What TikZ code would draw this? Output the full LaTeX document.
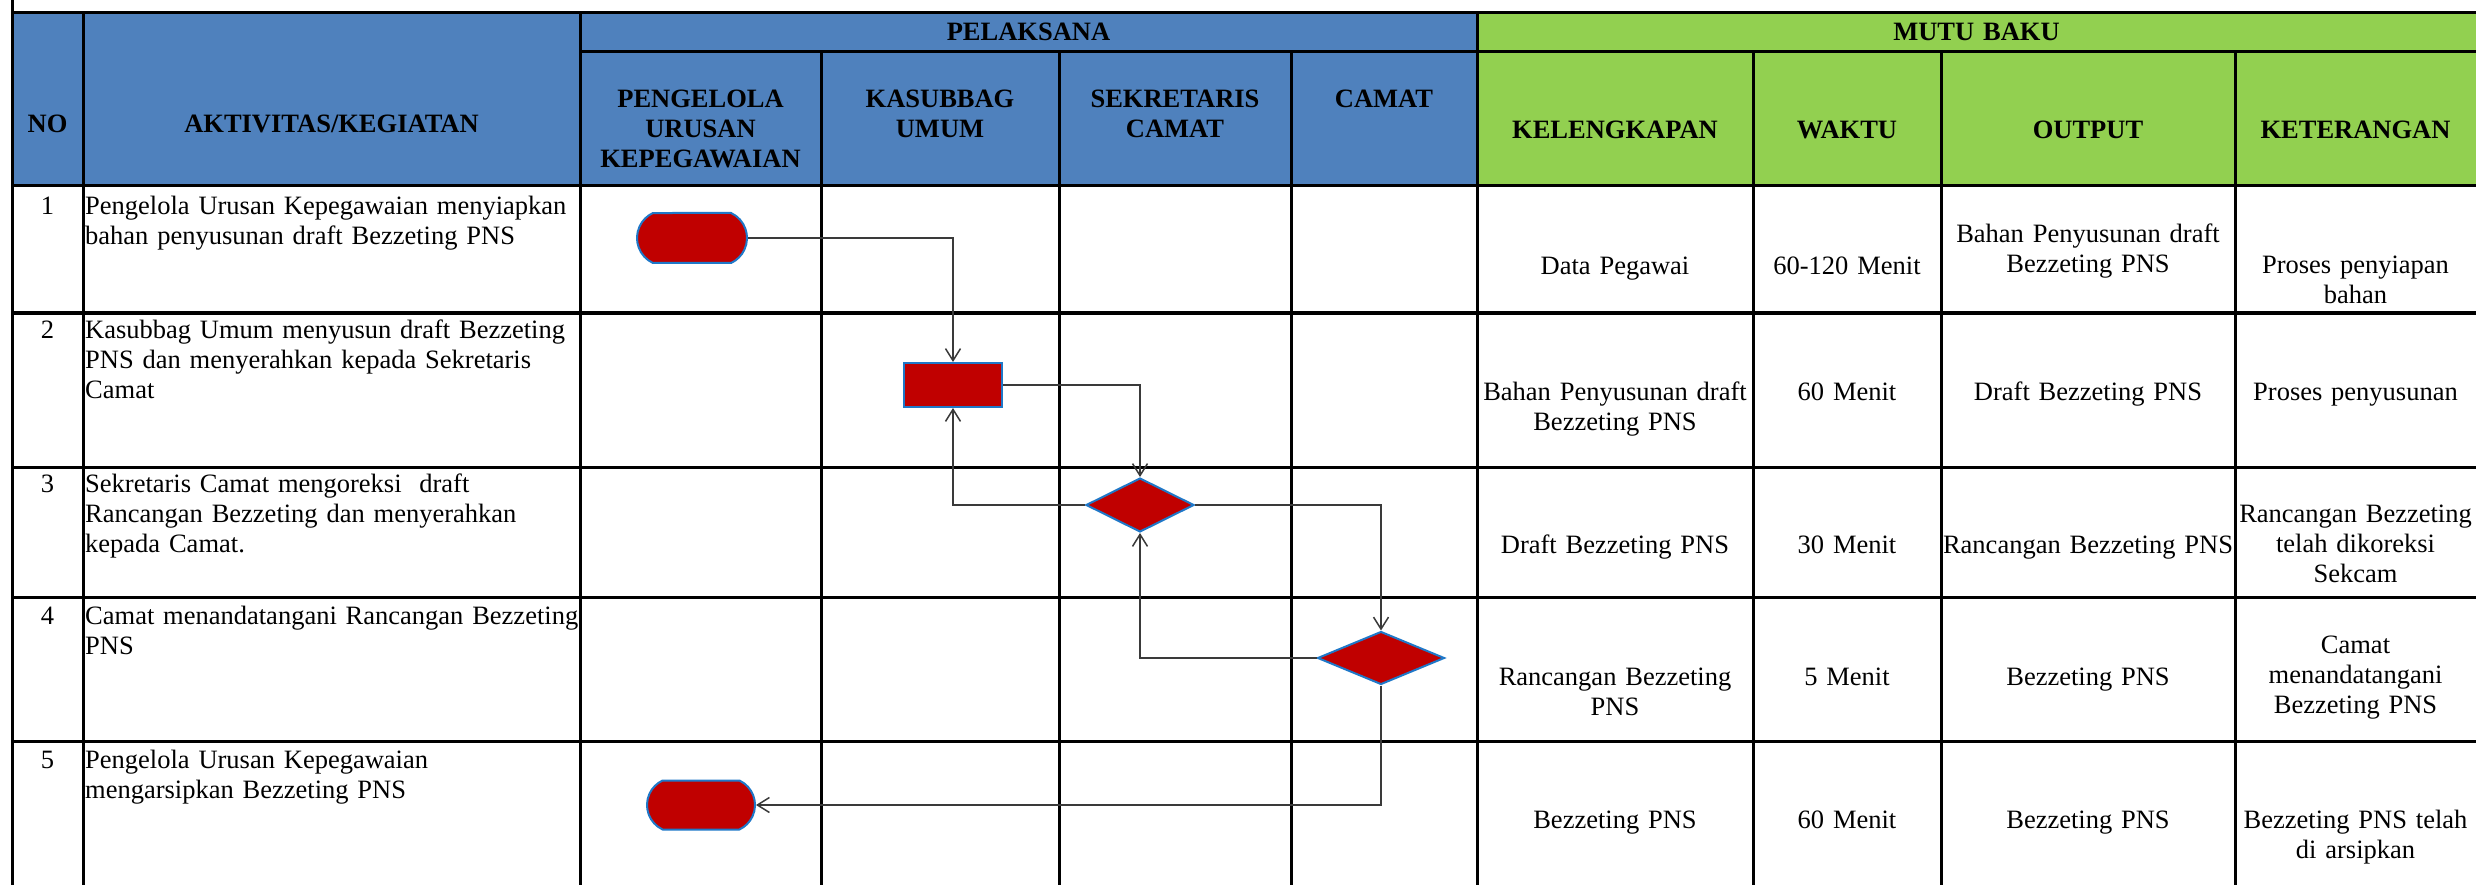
\documentclass[tikz,border=0pt]{standalone}
\usepackage{fontspec}
\setmainfont{Liberation Serif}
\usetikzlibrary{shapes.geometric,shapes.misc,arrows.meta}
\definecolor{hdrblue}{HTML}{4F81BD}
\definecolor{hdrgreen}{HTML}{92D050}
\definecolor{shapered}{HTML}{C00000}
\definecolor{shapeedge}{HTML}{1F78C8}
\definecolor{conngray}{HTML}{3A3A3A}
\newcommand{\bodyfont}{\fontsize{26.5}{30}\selectfont}
\newcommand{\headfont}{\fontsize{26.5}{30}\selectfont\bfseries}
\tikzset{
  gridline/.style={line width=3pt, draw=black, line cap=rect},
  txtL/.style={anchor=north west, inner sep=0pt, yshift=21pt, text width=520pt, align=left, font=\bodyfont},
  txtC/.style={anchor=north, inner sep=0pt, yshift=21pt, text width=330pt, align=center, font=\bodyfont},
  hdr/.style={anchor=north, inner sep=0pt, yshift=21pt, text width=330pt, align=center, font=\headfont},
  fc/.style={fill=shapered, draw=shapeedge, line width=2pt, inner sep=0pt},
  term/.style={fc, rounded rectangle, rounded rectangle arc length=130},
  proc/.style={fc, rectangle, minimum width=98pt, minimum height=44pt},
  dec/.style={fc, diamond},
  flow/.style={draw=conngray, line width=1.5pt, -{Straight Barb[length=12pt,width=15pt]}},
}
\begin{document}
\begin{tikzpicture}[x=1pt,y=-1pt]
\useasboundingbox (0,0) rectangle (2476,885);
% header fills
\fill[hdrblue] (12,13) rectangle (1477,186);
\fill[hdrgreen] (1477,13) rectangle (2476,186);
% grid
\foreach \yy in {13,186,313,467,597,741} \draw[gridline] (12,\yy) -- (2476,\yy);
\draw[gridline] (580,52) -- (2476,52);
\draw[gridline] (12,0) -- (12,885);
\foreach \xx in {83,580,1477} \draw[gridline] (\xx,13) -- (\xx,885);
\foreach \xx in {821,1059,1291,1753,1941,2235} \draw[gridline] (\xx,52) -- (\xx,885);
% header texts
\node[hdr] (hno) at (47.5,132) {\strut NO};
\node[hdr] (hakt) at (331.5,132) {\strut AKTIVITAS/KEGIATAN};
\node[hdr] (hpel) at (1028.5,40) {\strut PELAKSANA};
\node[hdr] (hmutu) at (1976.5,40) {\strut MUTU BAKU};
\node[hdr] (hpeng) at (700.5,107) {\strut PENGELOLA\\URUSAN\\KEPEGAWAIAN};
\node[hdr] (hkas) at (940,107) {\strut KASUBBAG\\UMUM};
\node[hdr] (hsek) at (1175,107) {\strut SEKRETARIS\\CAMAT};
\node[hdr] (hcam) at (1384,107) {\strut CAMAT};
\node[hdr] (hkel) at (1615,138) {\strut KELENGKAPAN};
\node[hdr] (hwak) at (1847,138) {\strut WAKTU};
\node[hdr] (hout) at (2088,138) {\strut OUTPUT};
\node[hdr] (hket) at (2355.5,138) {\strut KETERANGAN};
% numbers
\node[txtC] (n1) at (47.5,214) {\strut 1};
\node[txtC] (n2) at (47.5,338) {\strut 2};
\node[txtC] (n3) at (47.5,492) {\strut 3};
\node[txtC] (n4) at (47.5,624) {\strut 4};
\node[txtC] (n5) at (47.5,768) {\strut 5};
% activities
\node[txtL] (a1) at (85,214) {\strut Pengelola Urusan Kepegawaian menyiapkan\\bahan penyusunan draft Bezzeting PNS};
\node[txtL] (a2) at (85,338) {\strut Kasubbag Umum menyusun draft Bezzeting\\PNS dan menyerahkan kepada Sekretaris\\Camat};
\node[txtL] (a3) at (85,492) {\strut Sekretaris Camat mengoreksi\ \ draft\\Rancangan Bezzeting dan menyerahkan\\kepada Camat.};
\node[txtL] (a4) at (85,624) {\strut Camat menandatangani Rancangan Bezzeting\\PNS};
\node[txtL] (a5) at (85,768) {\strut Pengelola Urusan Kepegawaian\\mengarsipkan Bezzeting PNS};
% mutu baku row 1
\node[txtC] (k1) at (1615,274) {\strut Data Pegawai};
\node[txtC] (w1) at (1847,274) {\strut 60-120 Menit};
\node[txtC] (o1) at (2088,242) {\strut Bahan Penyusunan draft\\Bezzeting PNS};
\node[txtC] (e1) at (2355.5,273) {\strut Proses penyiapan\\bahan};
% row 2
\node[txtC] (k2) at (1615,400) {\strut Bahan Penyusunan draft\\Bezzeting PNS};
\node[txtC] (w2) at (1847,400) {\strut 60 Menit};
\node[txtC] (o2) at (2088,400) {\strut Draft Bezzeting PNS};
\node[txtC] (e2) at (2355.5,400) {\strut Proses penyusunan};
% row 3
\node[txtC] (k3) at (1615,553) {\strut Draft Bezzeting PNS};
\node[txtC] (w3) at (1847,553) {\strut 30 Menit};
\node[txtC] (o3) at (2088,553) {\strut Rancangan Bezzeting PNS};
\node[txtC] (e3) at (2355.5,522) {\strut Rancangan Bezzeting\\telah dikoreksi\\Sekcam};
% row 4
\node[txtC] (k4) at (1615,685) {\strut Rancangan Bezzeting\\PNS};
\node[txtC] (w4) at (1847,685) {\strut 5 Menit};
\node[txtC] (o4) at (2088,685) {\strut Bezzeting PNS};
\node[txtC] (e4) at (2355.5,653) {\strut Camat\\menandatangani\\Bezzeting PNS};
% row 5
\node[txtC] (k5) at (1615,828) {\strut Bezzeting PNS};
\node[txtC] (w5) at (1847,828) {\strut 60 Menit};
\node[txtC] (o5) at (2088,828) {\strut Bezzeting PNS};
\node[txtC] (e5) at (2355.5,828) {\strut Bezzeting PNS telah\\di arsipkan};
% flowchart shapes
\node[term, minimum width=110pt, minimum height=50pt] (t1) at (692,238) {};
\node[proc] (p) at (953,385) {};
\node[dec, minimum width=108pt, minimum height=54pt] (d1) at (1140,505) {};
\node[dec, minimum width=127pt, minimum height=53pt] (d2) at (1381,658) {};
\node[term, minimum width=108pt, minimum height=49pt] (t2) at (701,805) {};
% connectors
\draw[flow] (t1.east) -| (p.north);
\draw[flow] (p.east) -| (d1.north);
\draw[flow] (d1.west) -| (p.south);
\draw[flow] (d1.east) -| (d2.north);
\draw[flow] (d2.west) -| (d1.south);
\draw[flow] (d2.south) |- (t2.east);
\end{tikzpicture}
\end{document}
